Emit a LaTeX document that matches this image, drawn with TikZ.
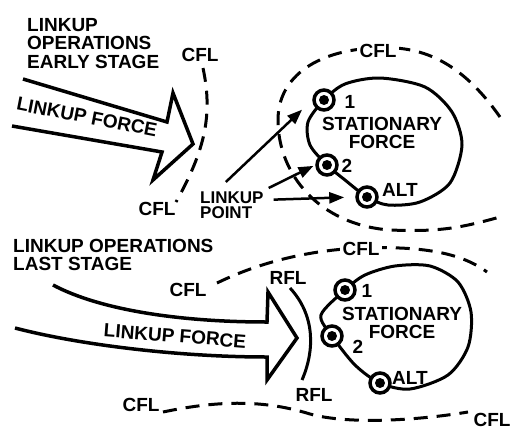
\documentclass[tikz,border=0pt]{standalone}
\usepackage{fontspec}
\setmainfont{Liberation Sans}
\usetikzlibrary{arrows.meta}

\tikzset{
  lbl/.style={font=\fontsize{19}{18.5}\selectfont\bfseries, inner sep=0pt},
  smalllbl/.style={font=\fontsize{17}{15}\selectfont\bfseries, inner sep=0pt},
  cfl/.style={line width=3pt, dash pattern=on 14pt off 9pt},
  bullseye/.style={circle, draw, line width=3.5pt, fill=white, minimum size=20pt, inner sep=0pt,
    path picture={\fill[black] (path picture bounding box.center) circle (5pt);}},
  pointer/.style={-{Triangle[length=15pt,width=11pt]}, line width=2.5pt},
  force/.style={line width=3.5pt, line join=miter},
}

\begin{document}
\begin{tikzpicture}[x=1pt,y=-1pt]
  \useasboundingbox (0,0) rectangle (512,429);

  % early stage
  \node[lbl, align=left, anchor=north west] (early) at (27,18) {LINKUP\\OPERATIONS\\EARLY STAGE};
  \draw[force] (23,79) -- (167,122) -- (173,93) -- (193,144) -- (153,180) -- (162,152) -- (12,126);
  \node[lbl, rotate=-11] (force1) at (87,117) {LINKUP FORCE};
  \draw[cfl] (203,68) .. controls (213,115) and (205,150) .. (176,202);
  \node[lbl] (cflA) at (200,55) {CFL};
  \node[lbl] (cflB) at (157,209) {CFL};

  \draw[cfl] (500,117) .. controls (460,60) and (420,45) .. (375,48)
    .. controls (320,50) and (278,75) .. (278,120)
    .. controls (278,175) and (320,225) .. (390,230)
    .. controls (440,232) and (460,228) .. (500,217);
  \node[lbl, fill=white, inner sep=3pt] (cflC) at (378,51) {CFL};

  \draw[line width=3pt] plot[smooth cycle] coordinates {(324,100) (345,84) (380,78) (425,87)
    (452,112) (462,145) (450,183) (420,202) (388,205) (367,197) (345,180) (327,165) (310,145) (308,122)};
  \node[bullseye] (top1) at (324,100) {};
  \node[bullseye] (top2) at (327,165) {};
  \node[bullseye] (topalt) at (367,197) {};
  \node[lbl] (n1a) at (350,102) {1};
  \node[lbl] (n2a) at (347,166) {2};
  \node[lbl] (alta) at (400,190) {ALT};
  \node[lbl, align=center] (sfa) at (382,133) {STATIONARY\\FORCE};

  \node[smalllbl, align=left, anchor=north west] (lp) at (200,192) {LINKUP\\POINT};
  \draw[pointer, shorten >=14pt] ([xshift=-6pt,yshift=10pt]lp.north) -- (top1.west);
  \draw[pointer, shorten >=2pt] ([xshift=5pt,yshift=4pt]lp.north east) -- (top2.west);
  \draw[pointer, shorten >=11pt] ([xshift=10pt,yshift=6pt]lp.east) -- (topalt.west);

  % last stage
  \node[lbl, align=left, anchor=north west] (last) at (13,239) {LINKUP OPERATIONS\\LAST STAGE};
  \draw[force] (53,285) .. controls (100,310) and (180,322) .. (267,322) -- (268,292) -- (297,338)
    -- (267,380) -- (267,357) .. controls (180,357) and (80,345) .. (15,328);
  \node[lbl, rotate=-4.5] (force2) at (175,336) {LINKUP FORCE};
  \draw[line width=3pt] (290,288) .. controls (315,315) and (315,350) .. (302,380);
  \node[lbl] (rflA) at (288,278) {RFL};
  \node[lbl] (rflB) at (314,395) {RFL};

  \draw[cfl] (217,283) .. controls (260,262) and (310,250) .. (361,248)
    .. controls (420,246) and (460,252) .. (487,272);
  \node[lbl, fill=white, inner sep=3pt] (cflD) at (361,249) {CFL};
  \node[lbl] (cflE) at (188,290) {CFL};
  \draw[cfl] (163,412) .. controls (220,400) and (265,400) .. (310,414)
    .. controls (350,425) and (420,420) .. (468,412);
  \node[lbl] (cflF) at (141,405) {CFL};
  \node[lbl] (cflG) at (492,420) {CFL};

  \draw[line width=3pt] plot[smooth cycle] coordinates {(345,290) (365,275) (395,266) (430,266)
    (458,282) (471,312) (468,347) (448,375) (410,389) (380,383) (355,365) (332,336) (321,315)};
  \node[bullseye] (bot1) at (345,290) {};
  \node[bullseye] (bot2) at (332,336) {};
  \node[bullseye] (botalt) at (380,383) {};
  \node[lbl] (n1b) at (367,291) {1};
  \node[lbl] (n2b) at (358,347) {2};
  \node[lbl] (altb) at (410,378) {ALT};
  \node[lbl, align=center] (sfb) at (402,323) {STATIONARY\\FORCE};
\end{tikzpicture}
\end{document}
